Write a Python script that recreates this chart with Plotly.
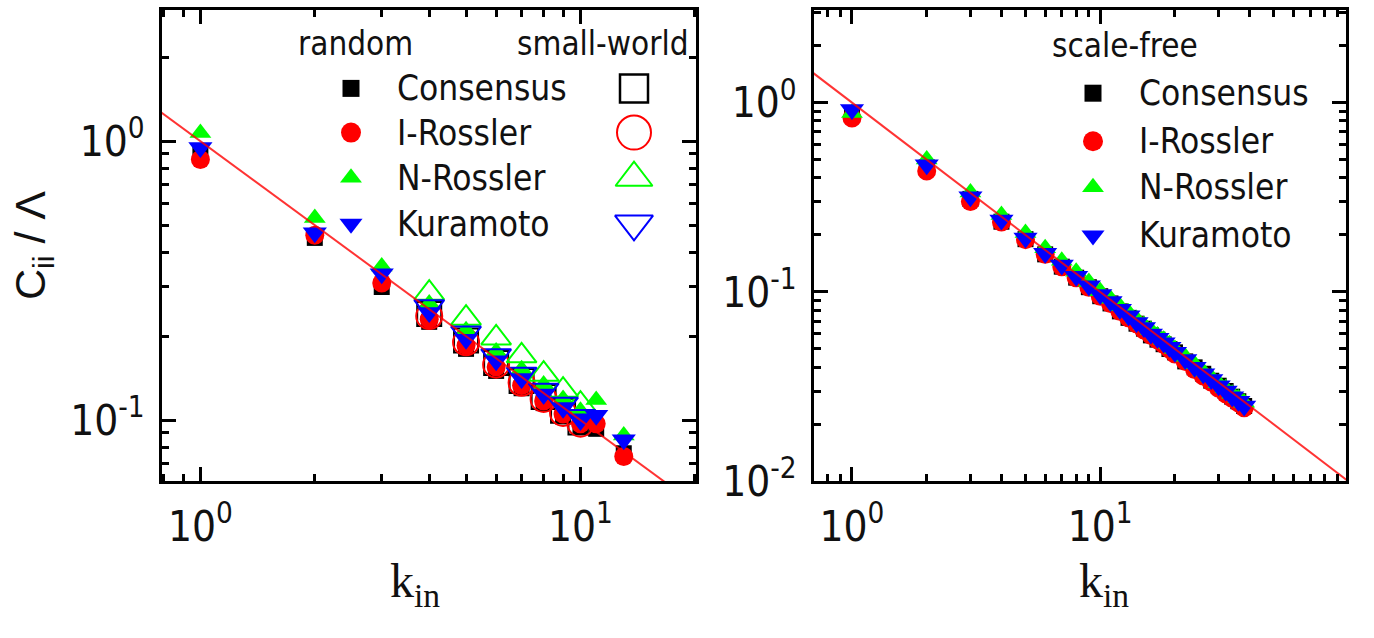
import plotly.graph_objects as go

# ---------------- data ----------------
# left panel: random networks (filled markers)
k_rand = [1, 2, 3, 4, 5, 6, 7, 8, 9, 10, 11, 13]
rand_consensus = [0.92, 0.45, 0.30, 0.225, 0.180, 0.150, 0.130, 0.115, 0.103, 0.095, 0.093, 0.076]
rand_irossler = [0.86, 0.46, 0.31, 0.230, 0.185, 0.155, 0.133, 0.117, 0.105, 0.097, 0.097, 0.074]
rand_nrossler = [1.07, 0.53, 0.355, 0.262, 0.210, 0.176, 0.152, 0.134, 0.119, 0.108, 0.118, 0.088]
rand_kuramoto = [0.95, 0.47, 0.335, 0.243, 0.195, 0.163, 0.141, 0.124, 0.111, 0.101, 0.104, 0.085]

# left panel: small-world networks (open markers)
k_sw = [4, 5, 6, 7, 8, 9, 10]
sw_consensus = [0.240, 0.193, 0.160, 0.138, 0.121, 0.108, 0.098]
sw_irossler = [0.236, 0.190, 0.158, 0.136, 0.119, 0.106, 0.097]
sw_nrossler = [0.285, 0.232, 0.197, 0.170, 0.146, 0.128, 0.114]
sw_kuramoto = [0.255, 0.205, 0.170, 0.146, 0.128, 0.114, 0.103]

# right panel: scale-free networks (filled markers)
k_sf = [1, 2, 3, 4, 5, 6, 7, 8, 9, 10, 11, 12, 13, 14, 15, 16, 17, 18, 19, 20,
        22, 24, 26, 28, 30, 32, 34, 36, 38]
sf_consensus = [0.88, 0.455, 0.31, 0.235, 0.190, 0.158, 0.136, 0.119, 0.106, 0.095,
                0.087, 0.079, 0.073, 0.068, 0.064, 0.059, 0.056, 0.053, 0.050, 0.048,
                0.043, 0.040, 0.037, 0.034, 0.032, 0.030, 0.028, 0.0265, 0.025]
sf_irossler = [0.83, 0.435, 0.30, 0.234, 0.189, 0.158, 0.136, 0.119, 0.106, 0.095,
               0.087, 0.079, 0.073, 0.068, 0.063, 0.059, 0.056, 0.053, 0.050, 0.047,
               0.043, 0.039, 0.036, 0.0335, 0.031, 0.029, 0.0275, 0.026, 0.0245]
sf_nrossler = [0.88, 0.50, 0.335, 0.255, 0.205, 0.170, 0.146, 0.128, 0.113, 0.101,
               0.092, 0.084, 0.078, 0.072, 0.067, 0.063, 0.059, 0.056, 0.053, 0.050,
               0.0455, 0.0415, 0.038, 0.0355, 0.033, 0.031, 0.029, 0.0275, 0.026]
sf_kuramoto = [0.92, 0.47, 0.318, 0.240, 0.193, 0.160, 0.139, 0.121, 0.108, 0.097,
               0.089, 0.081, 0.075, 0.069, 0.065, 0.060, 0.057, 0.054, 0.051, 0.048,
               0.044, 0.040, 0.037, 0.0345, 0.032, 0.030, 0.028, 0.0265, 0.025]

# fitted power law C/Λ = 1/k (end points)
fit_k_left = [0.5, 30]
fit_y_left = [2.0, 0.0333]
fit_k_right = [0.5, 200]
fit_y_right = [2.0, 0.005]

series_names = ["Consensus", "I-Rossler", "N-Rossler", "Kuramoto"]
header_left = ["random", "small-world"]
header_right = "scale-free"

# ---------------- style ----------------
W, H = 1374, 638
NARROW = "Liberation Sans Narrow, Arial Narrow, DejaVu Sans Condensed, Liberation Sans, Arial, sans-serif"
SANS = "Liberation Sans, Arial, sans-serif"
SERIF = "Liberation Serif, Times New Roman, serif"

COLORS = ["#000000", "#ff0000", "#00ff00", "#0000ff"]
FILLED = ["square", "circle", "triangle-up", "triangle-down"]
OPEN = ["square-open", "circle-open", "triangle-up-open", "triangle-down-open"]
SIZE_FILLED = [16, 19, 19, 21]
SIZE_OPEN = [24, 26, 26, 26]
LEG_FILLED = [17, 20, 19, 20]
LEG_OPEN = [28, 34, 32, 33]

rand_data = [rand_consensus, rand_irossler, rand_nrossler, rand_kuramoto]
sw_data = [sw_consensus, sw_irossler, sw_nrossler, sw_kuramoto]
sf_data = [sf_consensus, sf_irossler, sf_nrossler, sf_kuramoto]

fig = go.Figure()

# left panel
for i in range(4):
    fig.add_trace(go.Scatter(x=k_rand, y=rand_data[i], mode="markers", xaxis="x", yaxis="y",
                             marker=dict(symbol=FILLED[i], size=SIZE_FILLED[i], color=COLORS[i],
                                         line=dict(width=0)),
                             showlegend=False, cliponaxis=False))
    fig.add_trace(go.Scatter(x=k_sw, y=sw_data[i], mode="markers", xaxis="x", yaxis="y",
                             marker=dict(symbol=OPEN[i], size=SIZE_OPEN[i], color=COLORS[i],
                                         line=dict(width=2, color=COLORS[i])),
                             showlegend=False, cliponaxis=False))
fig.add_trace(go.Scatter(x=fit_k_left, y=fit_y_left, mode="lines", xaxis="x", yaxis="y",
                         line=dict(color="rgba(255,0,0,0.8)", width=2), showlegend=False))

# right panel
for i in range(4):
    fig.add_trace(go.Scatter(x=k_sf, y=sf_data[i], mode="markers", xaxis="x2", yaxis="y2",
                             marker=dict(symbol=FILLED[i], size=SIZE_FILLED[i], color=COLORS[i],
                                         line=dict(width=0)),
                             showlegend=False, cliponaxis=False))
fig.add_trace(go.Scatter(x=fit_k_right, y=fit_y_right, mode="lines", xaxis="x2", yaxis="y2",
                         line=dict(color="rgba(255,0,0,0.8)", width=2), showlegend=False))

# ---------------- hand-made legends (overlay axis in figure fractions) ----------------
def fx(p):
    return p / W


def fy(p):
    return 1 - p / H


LEFT_SYM_X, LEFT_TXT_X, LEFT_OPEN_X = 351, 395, 634
LEFT_ROWS = [92, 138, 185, 233]
RIGHT_SYM_X, RIGHT_TXT_X = 1093, 1137
RIGHT_ROWS = [97, 147, 195, 245]
LEG_FONT = 35
HEAD_FONT = 33

annotations = []
for i in range(4):
    fig.add_trace(go.Scatter(x=[fx(LEFT_SYM_X)], y=[fy(LEFT_ROWS[i])], mode="markers",
                             xaxis="x3", yaxis="y3", cliponaxis=False, showlegend=False,
                             marker=dict(symbol=FILLED[i], size=LEG_FILLED[i], color=COLORS[i],
                                         line=dict(width=0))))
    fig.add_trace(go.Scatter(x=[fx(LEFT_OPEN_X)], y=[fy(LEFT_ROWS[i])], mode="markers",
                             xaxis="x3", yaxis="y3", cliponaxis=False, showlegend=False,
                             marker=dict(symbol=OPEN[i], size=LEG_OPEN[i], color=COLORS[i],
                                         line=dict(width=2.5 if i == 0 else 2, color=COLORS[i]))))
    fig.add_trace(go.Scatter(x=[fx(RIGHT_SYM_X)], y=[fy(RIGHT_ROWS[i])], mode="markers",
                             xaxis="x3", yaxis="y3", cliponaxis=False, showlegend=False,
                             marker=dict(symbol=FILLED[i], size=LEG_FILLED[i], color=COLORS[i],
                                         line=dict(width=0))))
    annotations.append(dict(text=series_names[i], x=fx(LEFT_TXT_X), y=fy(LEFT_ROWS[i]),
                            xref="paper", yref="paper", xanchor="left", yanchor="middle",
                            showarrow=False, font=dict(family=NARROW, size=LEG_FONT, color="#111")))
    annotations.append(dict(text=series_names[i], x=fx(RIGHT_TXT_X), y=fy(RIGHT_ROWS[i]),
                            xref="paper", yref="paper", xanchor="left", yanchor="middle",
                            showarrow=False, font=dict(family=NARROW, size=LEG_FONT, color="#111")))

annotations.append(dict(text=header_left[0], x=fx(356), y=fy(45), xref="paper", yref="paper",
                        xanchor="center", yanchor="middle", showarrow=False,
                        font=dict(family=NARROW, size=HEAD_FONT, color="#111")))
annotations.append(dict(text=header_left[1], x=fx(603), y=fy(45), xref="paper", yref="paper",
                        xanchor="center", yanchor="middle", showarrow=False,
                        font=dict(family=NARROW, size=HEAD_FONT, color="#111")))
annotations.append(dict(text=header_right, x=fx(1125), y=fy(47), xref="paper", yref="paper",
                        xanchor="center", yanchor="middle", showarrow=False,
                        font=dict(family=NARROW, size=HEAD_FONT, color="#111")))

# axis titles
annotations.append(dict(text="C<sub>ii</sub> / Λ", x=fx(33), y=fy(256), xref="paper", yref="paper",
                        xanchor="center", yanchor="middle", textangle=-90, showarrow=False,
                        font=dict(family=SANS, size=43, color="#111")))
annotations.append(dict(text="k<sub>in</sub>", x=fx(415), y=fy(608), xref="paper", yref="paper",
                        xanchor="center", yanchor="middle", showarrow=False,
                        font=dict(family=SERIF, size=48, color="#111")))
annotations.append(dict(text="k<sub>in</sub>", x=fx(1104), y=fy(608), xref="paper", yref="paper",
                        xanchor="center", yanchor="middle", showarrow=False,
                        font=dict(family=SERIF, size=48, color="#111")))

# ---------------- axes ----------------
def log_axis(rng, domain, tickvals, ticktext, minor_vals, anchor):
    return dict(type="log", range=rng, domain=domain, anchor=anchor,
                showline=True, linecolor="black", linewidth=3, mirror="allticks",
                ticks="inside", ticklen=14, tickwidth=2.5, tickcolor="black",
                tickvals=tickvals, ticktext=ticktext, ticklabelstandoff=6,
                tickfont=dict(family=NARROW, size=42, color="#111"),
                showgrid=False, zeroline=False,
                minor=dict(tickmode="array", tickvals=minor_vals, ticks="inside", ticklen=7,
                           tickwidth=2.5, tickcolor="black", showgrid=False))


y_dom = [fy(501), fy(10)]
fig.update_layout(
    width=W, height=H,
    margin=dict(l=0, r=0, t=0, b=0),
    paper_bgcolor="white", plot_bgcolor="rgba(0,0,0,0)",
    xaxis=log_axis([-0.101, 1.304], [fx(162), fx(696)], [1, 10],
                   ["10<sup>0</sup>", "10<sup>1</sup>"],
                   [0.8, 0.9, 2, 3, 4, 5, 6, 7, 8, 9, 20], "y"),
    yaxis=log_axis([-1.22, 0.472], y_dom, [0.1, 1],
                   ["10<sup>-1</sup>", "10<sup>0</sup>"],
                   [0.07, 0.08, 0.09, 0.2, 0.3, 0.4, 0.5, 0.6, 0.7, 0.8, 0.9, 2, 3], "x"),
    xaxis2=log_axis([-0.153, 1.99], [fx(814), fx(1346)], [1, 10, 100],
                    ["10<sup>0</sup>", "10<sup>1</sup>", "10<sup>2</sup>"],
                    [0.8, 0.9, 2, 3, 4, 5, 6, 7, 8, 9, 20, 30, 40, 50, 60, 70, 80, 90], "y2"),
    yaxis2=log_axis([-2.0, 0.491], y_dom, [0.01, 0.1, 1],
                    ["10<sup>-2</sup>", "10<sup>-1</sup>", "10<sup>0</sup>"],
                    [0.02, 0.03, 0.04, 0.05, 0.06, 0.07, 0.08, 0.09,
                     0.2, 0.3, 0.4, 0.5, 0.6, 0.7, 0.8, 0.9, 2, 3], "x2"),
    xaxis3=dict(domain=[0, 1], range=[0, 1], anchor="y3", visible=False, fixedrange=True),
    yaxis3=dict(domain=[0, 1], range=[0, 1], anchor="x3", visible=False, fixedrange=True),
    annotations=annotations,
    showlegend=False,
)

fig.write_html("out.html")
